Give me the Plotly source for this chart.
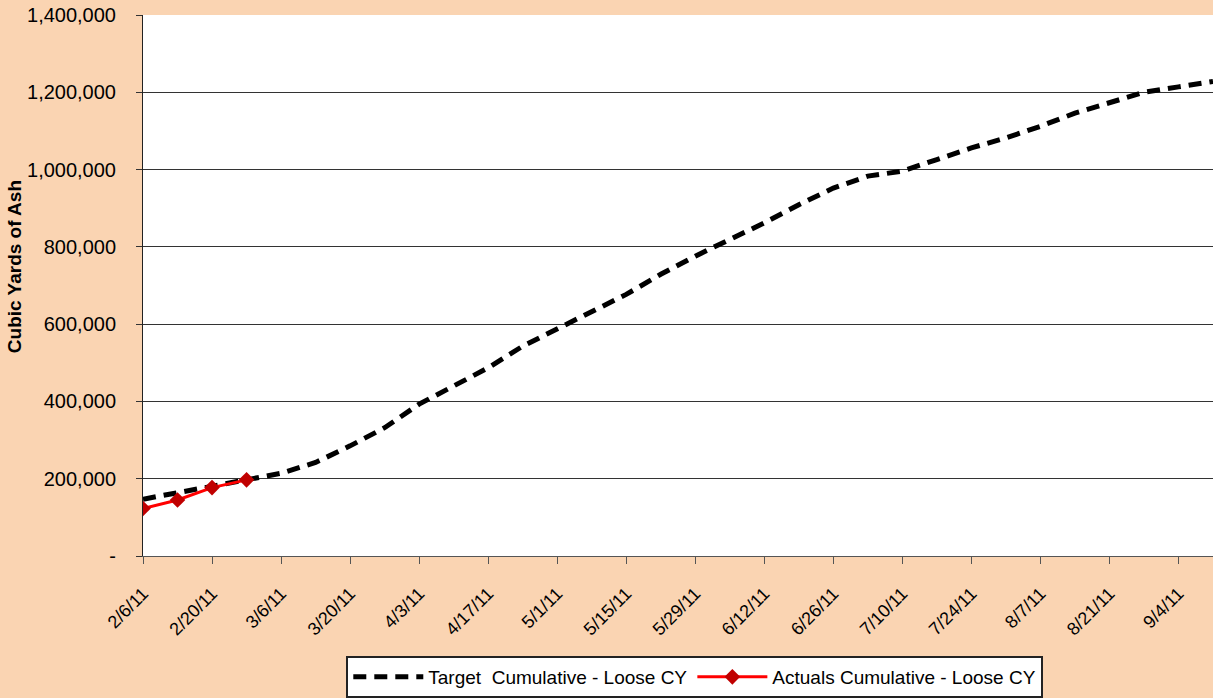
import plotly.graph_objects as go
import pandas as pd

target_dates = pd.date_range("2011-02-06", "2011-09-11", freq="7D").strftime("%Y-%m-%d").tolist()
target_values = [147000, 163000, 180000, 196000, 214000, 242000, 285000, 332000,
                 393000, 440000, 487000, 543000, 588000, 634000, 677000, 729000,
                 776000, 819000, 862000, 909000, 952000, 983000, 996000, 1026000,
                 1056000, 1082000, 1112000, 1146000, 1173000, 1200000, 1214000, 1228000]

actual_dates = ["2011-02-06", "2011-02-13", "2011-02-20", "2011-02-27"]
actual_values = [123000, 145000, 177000, 197000]

y_tick_vals = [0, 200000, 400000, 600000, 800000, 1000000, 1200000, 1400000]
y_tick_text = ["-", "200,000", "400,000", "600,000", "800,000", "1,000,000", "1,200,000", "1,400,000"]

BG = "#FAD4B2"
FONT = "Liberation Sans, Arial, sans-serif"

fig = go.Figure()
fig.add_trace(go.Scatter(
    x=target_dates, y=target_values, mode="lines",
    name="Target  Cumulative - Loose CY",
    line=dict(color="black", width=5, dash="13px,8px"),
))
fig.add_trace(go.Scatter(
    x=actual_dates, y=actual_values, mode="lines+markers",
    name="Actuals Cumulative - Loose CY",
    line=dict(color="#FF0000", width=3),
    marker=dict(symbol="diamond", size=12, color="#C00000"),
))

fig.update_layout(
    width=1213, height=698,
    paper_bgcolor=BG, plot_bgcolor="white",
    margin=dict(l=143, r=0, t=15, b=141),
    font=dict(family=FONT, color="black"),
    showlegend=True,
    legend=dict(
        orientation="h", x=0.19, y=-0.185, xanchor="left", yanchor="top",
        bgcolor="white", bordercolor="#222222", borderwidth=2,
        font=dict(size=19, family=FONT), itemwidth=70,
        tracegroupgap=0,
    ),
    xaxis=dict(
        type="date",
        range=["2011-02-06", "2011-09-11"],
        tick0="2011-02-06", dtick=14 * 86400000,
        tickformat="%-m/%-d/%y", tickangle=-45,
        ticks="outside", ticklen=7, tickcolor="#555555",
        ticklabelstandoff=12,
        showgrid=False, showline=True, linecolor="#555555", linewidth=1,
        tickfont=dict(size=18),
        zeroline=False,
    ),
    yaxis=dict(
        range=[0, 1400000],
        tickvals=y_tick_vals, ticktext=y_tick_text,
        ticks="outside", ticklen=6, tickcolor="#333333",
        ticklabelstandoff=16,
        showgrid=True, gridcolor="#333333", gridwidth=1,
        showline=True, linecolor="#222222", linewidth=1,
        tickfont=dict(size=20),
        zeroline=False,
    ),
    annotations=[dict(
        text="<b>Cubic Yards of Ash</b>", textangle=-90,
        xref="paper", yref="paper", x=-0.12, y=0.535,
        xanchor="center", yanchor="middle", showarrow=False,
        font=dict(size=19, family=FONT),
    )],
)

fig.write_html("out.html", config={"displayModeBar": False},
               post_script="document.body.style.margin='0px';")
